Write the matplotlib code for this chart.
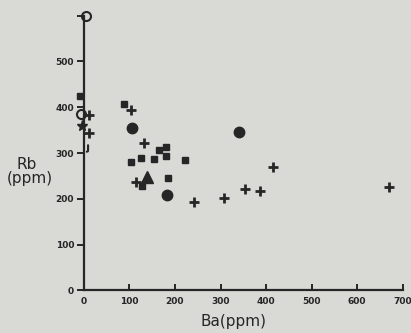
import matplotlib
matplotlib.use('Agg')
import matplotlib.pyplot as plt

# values (Ba ppm, Rb ppm)
sq_ba = [-8, 88, 104, 126, 155, 166, 180, 180, 223, 127, 185]
sq_rb = [425, 407, 280, 290, 287, 307, 313, 294, 284, 227, 245]

plus_ba = [12, 12, 103, 132, 114, 242, 308, 353, 387, 415, 669]
plus_rb = [383, 343, 394, 321, 236, 192, 202, 222, 218, 269, 226]

dot_ba = [106, 182, 340]
dot_rb = [355, 209, 345]

ring_ba = [5, -6]
ring_rb = [600, 386]

star_ba = [-4]
star_rb = [359]

tri_ba = [138]
tri_rb = [248]

hook_ba = [8]
hook_rb = [310]

x_ticks = [0, 100, 200, 300, 400, 500, 600, 700]
y_ticks = [0, 100, 200, 300, 400, 500, 600]
y_labels = ['0', '100', '200', '300', '400', '500', '']

paper = '#d9d9d6'
ink = '#262626'

fig = plt.figure(figsize=(4.11, 3.33), dpi=100, facecolor=paper)
ax = fig.add_axes([0.204, 0.128, 0.776, 0.825], facecolor=paper)

kw = dict(linestyle='none', color=ink, clip_on=False)
ax.plot(sq_ba, sq_rb, marker='s', markersize=5, **kw)
ax.plot(plus_ba, plus_rb, marker='+', markersize=7, markeredgewidth=2, **kw)
ax.plot(dot_ba, dot_rb, marker='o', markersize=7.5, **kw)
ax.plot(ring_ba, ring_rb, marker='o', markersize=6.5, markerfacecolor=paper,
        markeredgewidth=1.5, **kw)
ax.plot(star_ba, star_rb, marker='*', markersize=8, **kw)
ax.plot(tri_ba, tri_rb, marker='^', markersize=8, **kw)
ax.plot(hook_ba, hook_rb, marker=r'$\mathregular{J}$', markersize=5, **kw)

ax.set_xlim(0, 700)
ax.set_ylim(0, 600)
for s in ['top', 'right']:
    ax.spines[s].set_visible(False)
for s in ['left', 'bottom']:
    ax.spines[s].set_linewidth(1.6)
    ax.spines[s].set_color(ink)

ax.set_xticks(x_ticks)
ax.set_xticklabels([str(v) for v in x_ticks])
ax.set_yticks(y_ticks)
ax.set_yticklabels(y_labels)
ax.tick_params(axis='x', direction='in', length=4, width=1.4, pad=5,
               labelsize=6.5, colors=ink)
ax.tick_params(axis='y', direction='out', length=5, width=1.4, pad=2,
               labelsize=6.5, colors=ink)
for lab in ax.get_xticklabels() + ax.get_yticklabels():
    lab.set_fontweight('bold')

fig.text(0.066, 0.505, 'Rb', fontsize=11, color=ink, ha='center', va='center')
fig.text(0.073, 0.463, '(ppm)', fontsize=11, color=ink, ha='center', va='center')
fig.text(0.567, 0.036, 'Ba(ppm)', fontsize=11, color=ink, ha='center', va='center')

fig.savefig('out.png', dpi=100, facecolor=paper)
